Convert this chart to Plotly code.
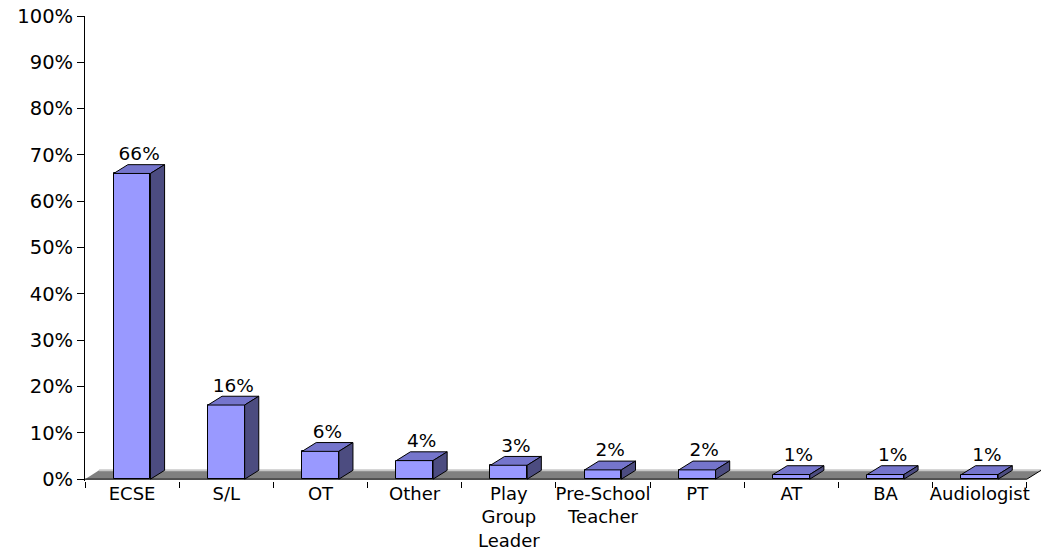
import plotly.graph_objects as go

# Survey results: share of respondents by professional role
categories = ["ECSE", "S/L", "OT", "Other", "Play<br>Group<br>Leader",
              "Pre-School<br>Teacher", "PT", "AT", "BA", "Audiologist"]
values = [66, 16, 6, 4, 3, 2, 2, 1, 1, 1]
value_labels = ["66%", "16%", "6%", "4%", "3%", "2%", "2%", "1%", "1%", "1%"]
y_ticks = [0, 10, 20, 30, 40, 50, 60, 70, 80, 90, 100]
y_tick_labels = ["0%", "10%", "20%", "30%", "40%", "50%", "60%", "70%", "80%", "90%", "100%"]

FRONT = "#9999FF"
TOP = "#7575CC"
SIDE = "#4C4C80"
FLOOR = "#808080"
FONT = "DejaVu Sans"

BAR_W = 0.39      # front face width, in category units
DX = 0.15         # depth offset along x (category units)
DY = 1.9          # depth offset along y (percent units)
Y_MIN = -0.4

xs = list(range(len(categories)))

fig = go.Figure()

# front faces
fig.add_trace(go.Bar(
    x=xs, y=values, width=BAR_W,
    marker=dict(color=FRONT, line=dict(color="black", width=1)),
    hoverinfo="skip", showlegend=False,
))

# top and side faces built from each bar's value
top_x, top_y, side_x, side_y = [], [], [], []
for x, v in zip(xs, values):
    x0, x1 = x - BAR_W / 2, x + BAR_W / 2
    top_x += [x0, x1, x1 + DX, x0 + DX, x0, None]
    top_y += [v, v, v + DY, v + DY, v, None]
    side_x += [x1, x1 + DX, x1 + DX, x1, x1, None]
    side_y += [0, DY, v + DY, v, 0, None]

fig.add_trace(go.Scatter(
    x=top_x, y=top_y, mode="lines", fill="toself", fillcolor=TOP,
    line=dict(color="black", width=1), hoverinfo="skip", showlegend=False,
))
fig.add_trace(go.Scatter(
    x=side_x, y=side_y, mode="lines", fill="toself", fillcolor=SIDE,
    line=dict(color="black", width=1), hoverinfo="skip", showlegend=False,
))

# value labels above each bar
fig.add_trace(go.Scatter(
    x=[x + DX / 2 for x in xs], y=[v + DY for v in values],
    mode="text", text=value_labels, textposition="top center",
    textfont=dict(family=FONT, size=18.5, color="black"),
    hoverinfo="skip", showlegend=False, cliponaxis=False,
))

x_lo, x_hi = -0.5, len(categories) - 0.5

# chart floor
floor_path = (f"M {x_lo},0 L {x_hi},0 L {x_hi + DX},{DY} "
              f"L {x_lo + DX},{DY} Z")
fig.add_shape(type="path", path=floor_path, xref="x", yref="y",
              fillcolor=FLOOR, line=dict(width=0), layer="below")
fig.add_shape(type="line", xref="x", yref="y",
              x0=x_lo + DX, y0=DY, x1=x_hi + DX, y1=DY,
              line=dict(color="#C8C8C8", width=2), layer="below")
fig.add_shape(type="line", xref="x", yref="y",
              x0=x_hi, y0=0, x1=x_hi + DX, y1=DY,
              line=dict(color="black", width=1), layer="below")
# category axis line
fig.add_shape(type="line", xref="x", yref="y",
              x0=x_lo, y0=0, x1=x_hi, y1=0,
              line=dict(color="black", width=1), layer="above")

fig.update_layout(
    width=1043, height=554,
    margin=dict(l=85, r=2, t=16, b=73),
    plot_bgcolor="white", paper_bgcolor="white",
    font=dict(family=FONT, color="black"),
    bargap=0,
    xaxis=dict(
        range=[x_lo, x_hi + DX], automargin=False,
        tickmode="array", tickvals=xs, ticktext=categories,
        ticks="", showline=False, showgrid=False, zeroline=False,
        ticklabelstandoff=0,
        tickfont=dict(family=FONT, size=18, color="black"),
        minor=dict(tickmode="array",
                   tickvals=[x - 0.5 for x in xs] + [x_hi],
                   ticks="outside", ticklen=6, tickcolor="black",
                   tickwidth=1, showgrid=False),
    ),
    yaxis=dict(
        range=[Y_MIN, 100], automargin=False,
        tickmode="array", tickvals=y_ticks, ticktext=y_tick_labels,
        ticks="outside", ticklen=7, tickcolor="black", tickwidth=1,
        showline=True, linecolor="black", linewidth=1,
        showgrid=False, zeroline=False,
        tickfont=dict(family=FONT, size=19.5, color="black"),
    ),
)

fig.write_html("out.html")
